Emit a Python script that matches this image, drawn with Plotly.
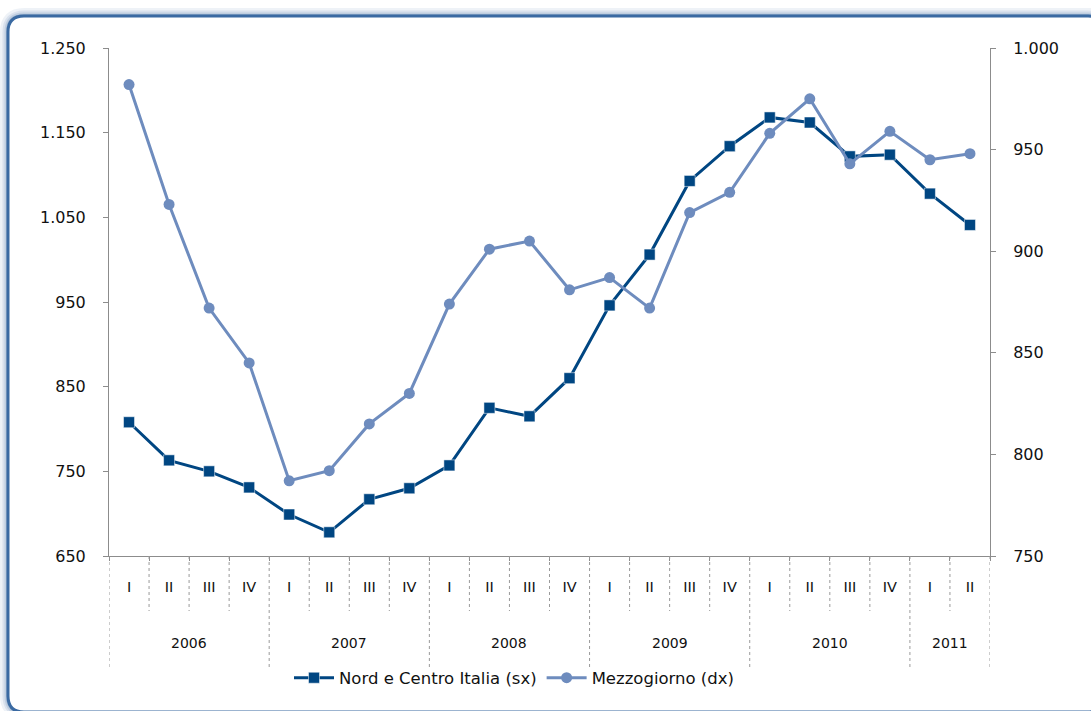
import plotly.graph_objects as go

# Quarterly series, 2006 Q1 - 2011 Q2
years = ["2006", "2007", "2008", "2009", "2010", "2011"]
quarters = ["I", "II", "III", "IV", "I", "II", "III", "IV", "I", "II", "III", "IV",
            "I", "II", "III", "IV", "I", "II", "III", "IV", "I", "II"]
quarters_per_year = [4, 4, 4, 4, 4, 2]

nord_centro = [808, 763, 750, 731, 699, 678, 717, 730, 757, 825, 815, 860,
               946, 1006, 1093, 1134, 1168, 1162, 1122, 1124, 1078, 1041]
mezzogiorno = [982, 923, 872, 845, 787, 792, 815, 830, 874, 901, 905, 881,
               887, 872, 919, 929, 958, 975, 943, 959, 945, 948]

x = list(range(len(quarters)))

DARK = "#004682"
LIGHT = "#6e8cbe"
AXIS = "#8c8c8c"
TEXT = "#111111"
FONT = "DejaVu Sans"

fig = go.Figure()
fig.add_trace(go.Scatter(
    x=x, y=nord_centro, name="Nord e Centro Italia (sx)", mode="lines+markers",
    line=dict(color=DARK, width=3),
    marker=dict(symbol="square", size=11, color=DARK,
                line=dict(color="rgba(255,255,255,0.5)", width=1)),
    yaxis="y",
))
fig.add_trace(go.Scatter(
    x=x, y=mezzogiorno, name="Mezzogiorno (dx)", mode="lines+markers",
    line=dict(color=LIGHT, width=3),
    marker=dict(symbol="circle", size=11, color=LIGHT),
    yaxis="y2",
))

# plot-area geometry in pixels (used to place the frame in paper units)
W, H = 1091, 711
L, R, T, B = 109, 990, 48, 556
pw, ph = R - L, B - T


def px(xp):
    return (xp - L) / pw


def py(yp):
    return (B - yp) / ph


def rounded_rect(x0, y0, x1, y1, r):
    rx, ry = r / pw, r / ph
    a, b, c, d = px(x0), py(y1), px(x1), py(y0)  # left, bottom, right, top
    return (f"M {a+rx},{d} L {c-rx},{d} Q {c},{d} {c},{d-ry} "
            f"L {c},{b+ry} Q {c},{b} {c-rx},{b} L {a+rx},{b} "
            f"Q {a},{b} {a},{b+ry} L {a},{d-ry} Q {a},{d} {a+rx},{d} Z")


frame = rounded_rect(8, 16, 1104, 712, 16)
shapes = []
# soft glow around the frame
for w, op in [(16, 0.10), (11, 0.14), (7, 0.20), (4, 0.30)]:
    shapes.append(dict(type="path", path=frame, xref="paper", yref="paper",
                       line=dict(color=f"rgba(90,130,175,{op})", width=w),
                       layer="below"))
shapes.append(dict(type="path", path=frame, xref="paper", yref="paper",
                   fillcolor="white", line=dict(color="#3a6aa2", width=3),
                   layer="below"))

# dotted separators under the category axis
q_bottom = py(611)
y_bottom = py(667)
year_bounds = [-0.5]
for n in quarters_per_year:
    year_bounds.append(year_bounds[-1] + n)
for k in range(len(quarters) + 1):
    xb = k - 0.5
    y_end = y_bottom if xb in year_bounds else q_bottom
    shapes.append(dict(type="line", xref="x", yref="paper", x0=xb, x1=xb,
                       y0=0, y1=y_end,
                       line=dict(color="#9a9a9a", width=1, dash="dot")))

annotations = []
for i, yr in enumerate(years):
    xc = (year_bounds[i] + year_bounds[i + 1]) / 2
    annotations.append(dict(x=xc, y=py(643), xref="x", yref="paper", text=yr,
                            showarrow=False, xanchor="center", yanchor="middle",
                            font=dict(size=14, color=TEXT, family=FONT)))

fig.update_layout(
    width=W, height=H,
    margin=dict(l=L, r=W - R, t=T, b=H - B, pad=0),
    paper_bgcolor="white", plot_bgcolor="rgba(0,0,0,0)",
    separators=",.",
    font=dict(family=FONT, size=16, color=TEXT),
    shapes=shapes, annotations=annotations,
    showlegend=True,
    legend=dict(orientation="h", x=px(514), y=py(678), xanchor="center",
                yanchor="middle", font=dict(size=16.5, family=FONT, color=TEXT),
                bgcolor="rgba(0,0,0,0)", itemwidth=40),
    xaxis=dict(
        range=[-0.5, len(quarters) - 0.5], tickmode="array", tickvals=x,
        ticktext=quarters, ticks="", showgrid=False, zeroline=False,
        showline=True, linecolor=AXIS, linewidth=1,
        tickfont=dict(size=14.5, family=FONT, color=TEXT), ticklabelstandoff=18,
        minor=dict(tickmode="linear", tick0=-0.5, dtick=1, ticks="outside",
                   ticklen=4, tickcolor=AXIS, showgrid=False),
        fixedrange=True,
    ),
    yaxis=dict(
        range=[650, 1250], tickmode="linear", tick0=650, dtick=100,
        tickformat=",d", ticks="outside", ticklen=5, tickcolor=AXIS,
        showline=True, linecolor=AXIS, linewidth=1, showgrid=False,
        zeroline=False, ticklabelstandoff=14,
    ),
    yaxis2=dict(
        range=[750, 1000], tickmode="linear", tick0=750, dtick=50,
        tickformat=",d", ticks="outside", ticklen=5, tickcolor=AXIS,
        showline=True, linecolor=AXIS, linewidth=1, showgrid=False,
        zeroline=False, overlaying="y", side="right", ticklabelstandoff=14,
    ),
)

fig.write_html("out.html")
